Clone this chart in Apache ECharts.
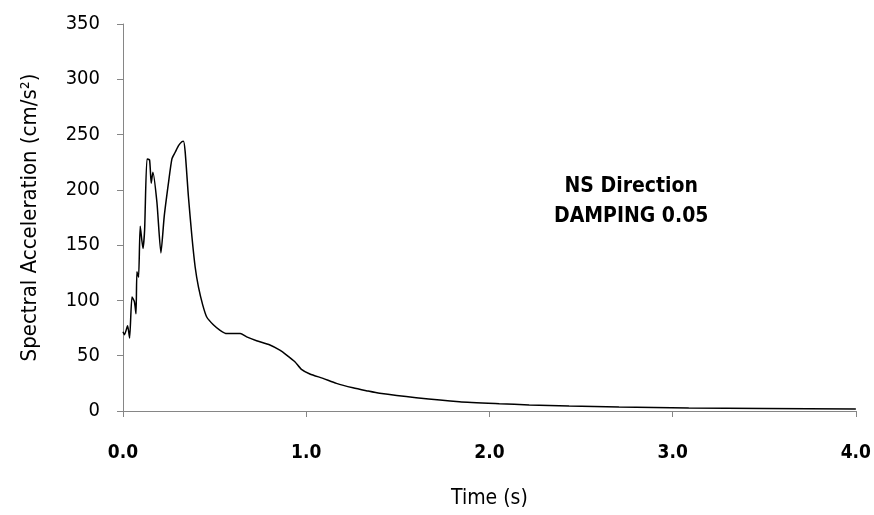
<!DOCTYPE html>
<html>
<head>
<meta charset="utf-8">
<script src="https://cdn.jsdelivr.net/npm/echarts@6/dist/echarts.min.js"></script>
<style>html,body{margin:0;padding:0;background:#fff}#c{width:874px;height:515px}</style>
</head>
<body>
<div id="c"></div>
<script>
const timeS = [0, 0.008, 0.025, 0.036, 0.049, 0.062, 0.071, 0.076, 0.085, 0.094, 0.109, 0.118, 0.131, 0.145, 0.154, 0.163, 0.185, 0.207, 0.225, 0.248, 0.267, 0.285, 0.303, 0.321, 0.330, 0.339, 0.357, 0.376, 0.394, 0.412, 0.435, 0.457, 0.493, 0.530, 0.566, 0.602, 0.640, 0.675, 0.729, 0.802, 0.856, 0.893, 0.938, 0.974, 1.020, 1.092, 1.165, 1.255, 1.328, 1.401, 1.60, 1.836, 2.054, 2.217, 2.435, 2.707, 3.088, 3.5, 4.0];
const accel = [71.7, 69, 77, 66, 103, 99, 88, 126, 121, 167, 147, 164, 228, 227, 206, 216, 189, 143, 176, 206, 228, 234, 240, 243.5, 244, 235, 194, 158, 130, 112, 96, 85, 78, 73, 70, 70, 70, 67, 63.6, 59.7, 55, 50.6, 44.6, 37.7, 33.5, 29.5, 25, 21, 18.4, 16, 12, 8.4, 6.6, 5.5, 4.5, 3.6, 2.7, 2.2, 1.8];
const xTitle = 'Time (s)';
const yTitle = 'Spectral Acceleration (cm/s\u00B2)';
const noteLines = ['NS Direction', 'DAMPING 0.05'];

const FONT = "'Liberation Sans Narrow', 'DejaVu Sans Condensed', 'Liberation Sans', sans-serif";
const chart = echarts.init(document.getElementById('c'), null, {renderer: 'canvas'});
chart.setOption({
  animation: false,
  backgroundColor: '#fff',
  grid: {left: 123, right: 18, top: 24, bottom: 104},
  xAxis: {
    type: 'value', min: 0, max: 4, interval: 1,
    name: xTitle, nameLocation: 'middle', nameGap: 77,
    nameTextStyle: {fontFamily: FONT, fontSize: 21, color: '#000'},
    axisLine: {lineStyle: {color: '#868686', width: 1}},
    axisTick: {show: true, length: 6, lineStyle: {color: '#868686'}},
    axisLabel: {fontFamily: FONT, fontSize: 19, fontWeight: 'bold', color: '#000', margin: 33,
      formatter: v => v.toFixed(1)},
    splitLine: {show: false}
  },
  yAxis: {
    type: 'value', min: 0, max: 350, interval: 50,
    name: yTitle, nameLocation: 'middle', nameGap: 82,
    nameTextStyle: {fontFamily: FONT, fontSize: 22, color: '#000'},
    axisLine: {show: true, lineStyle: {color: '#868686', width: 1}},
    axisTick: {show: true, length: 6, lineStyle: {color: '#868686'}},
    axisLabel: {fontFamily: FONT, fontSize: 20, color: '#000', margin: 23},
    splitLine: {show: false}
  },
  graphic: [{
    type: 'text', left: 554, top: 172,
    style: {text: noteLines.join('\n'), fontFamily: FONT, fontSize: 21, fontWeight: 'bold',
      fill: '#000', textAlign: 'center', lineHeight: 30}
  }],
  series: [{
    type: 'line',
    data: timeS.map((t, i) => [t, accel[i]]),
    showSymbol: false, symbol: 'none',
    smooth: 0.2,
    lineStyle: {color: '#000', width: 1.5}
  }]
});
</script>
</body>
</html>
